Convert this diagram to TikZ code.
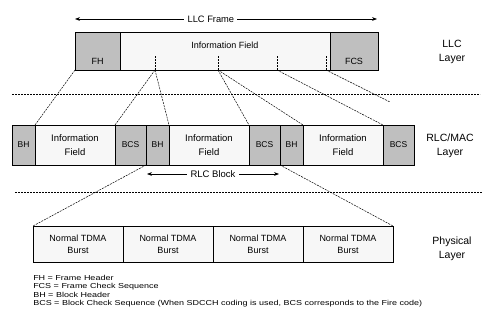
\documentclass[tikz,border=0pt]{standalone}
\usepackage{fontspec}
\setmainfont{Liberation Sans}
\usetikzlibrary{arrows.meta,positioning,calc}

\begin{document}
\begin{tikzpicture}[x=1pt, y=-1pt,
    hdr/.style={draw, line width=0.9pt, fill=gray!50, inner sep=0pt, outer sep=0pt},
    info/.style={draw, line width=0.9pt, fill=gray!6, inner sep=0pt, outer sep=0pt, align=center},
    every label/.style={font=\fontsize{9}{10.5}\selectfont},
    layer/.style={align=center, font=\fontsize{10.5}{14}\selectfont},
    link/.style={dash pattern=on 2pt off 1pt, line width=0.5pt},
    sep/.style={dash pattern=on 2pt off 1pt, line width=0.6pt},
    span/.style={{Stealth[length=5pt]}-{Stealth[length=5pt]}, line width=0.6pt}]
    \useasboundingbox (0,0) rectangle (488,320);

    % LLC layer
    \node[hdr, anchor=west, minimum width=45, minimum height=38, label={[yshift=-10pt]center:FH}] (fh) at (75,51) {};
    \node[info, right=0pt of fh, minimum width=210, minimum height=38, label={[yshift=6pt]center:Information Field}] (inf) {};
    \node[hdr, right=0pt of inf, minimum width=48, minimum height=38, label={[yshift=-10pt]center:FCS}] (fcs) {};
    \coordinate (fl) at (75,19);
    \coordinate (fr) at (377,19);
    \draw[span] (fl) -- node[pos=0.45, fill=white, font=\fontsize{9.3}{11}\selectfont] (llcf) {LLC Frame} (fr);
    \coordinate (t1) at (155,70);
    \coordinate (t2) at (218,70);
    \coordinate (t3) at (277,70);
    \coordinate (t4) at (326,70);
    \foreach \t in {t1,t2,t3,t4}
        \draw[link] (\t) -- ++(0,-15);
    \node[layer] (llcl) at (452,52) {LLC\\Layer};

    \coordinate (s1l) at (12,94);
    \coordinate (s1r) at (480,94);
    \draw[sep] (s1l) -- (s1r);

    % RLC/MAC layer
    \foreach \i/\x in {1/12, 2/146, 3/280} {
        \node[hdr, anchor=west, minimum width=23, minimum height=40, font=\fontsize{8.5}{10}\selectfont] (bh\i) at (\x,145) {BH};
        \node[info, right=0pt of bh\i, minimum width=80, minimum height=40, font=\fontsize{9.5}{13.5}\selectfont] (inf\i) {Information\\Field};
        \node[hdr, right=0pt of inf\i, minimum width=31, minimum height=40, font=\fontsize{8.5}{10}\selectfont] (bcs\i) {BCS};
    }
    \node[layer] (rlcl) at (450,146) {RLC/MAC\\Layer};

    \draw[link] (fh.south west) -- (inf1.north west);
    \draw[link] (t1) -- (bcs1.north west);
    \draw[link] (t1) -- (bh2.north east);
    \draw[link] (t2) -- (inf2.north east);
    \draw[link] (t2) -- (bh3.north east);
    \draw[link] (t3) -- (inf3.north east);
    \coordinate (stub) at (390,102);
    \draw[link] (t4) -- (stub);

    \draw[span] (bh2.south west) ++(1,9) coordinate (bl) -- node[fill=white, font=\fontsize{9.5}{11}\selectfont] (rlcb) {RLC Block} ($(bh3.south west)+(-1,9)$);

    \coordinate (s2l) at (15,192);
    \coordinate (s2r) at (482,192);
    \draw[sep] (s2l) -- (s2r);

    % Physical layer
    \foreach \i in {1,...,4}
        \node[info, anchor=west, minimum width=90, minimum height=36, font=\fontsize{9}{12}\selectfont] (b\i) at ({33+90*(\i-1)},244) {Normal TDMA\\Burst};
    \node[layer] (phyl) at (452,249) {Physical\\Layer};

    \draw[link] (bh2.south west) -- (b1.north west);
    \draw[link] (bh3.south west) -- (b4.north east);

    % legend
    \node[anchor=north west, align=left, inner sep=0pt, xscale=1.25, transform shape, font=\fontsize{7.2}{8.3}\selectfont] (leg) at (33,275) {FH = Frame Header\\FCS = Frame Check Sequence\\BH = Block Header\\BCS = Block Check Sequence (When SDCCH coding is used, BCS corresponds to the Fire code)};
\end{tikzpicture}
\end{document}
